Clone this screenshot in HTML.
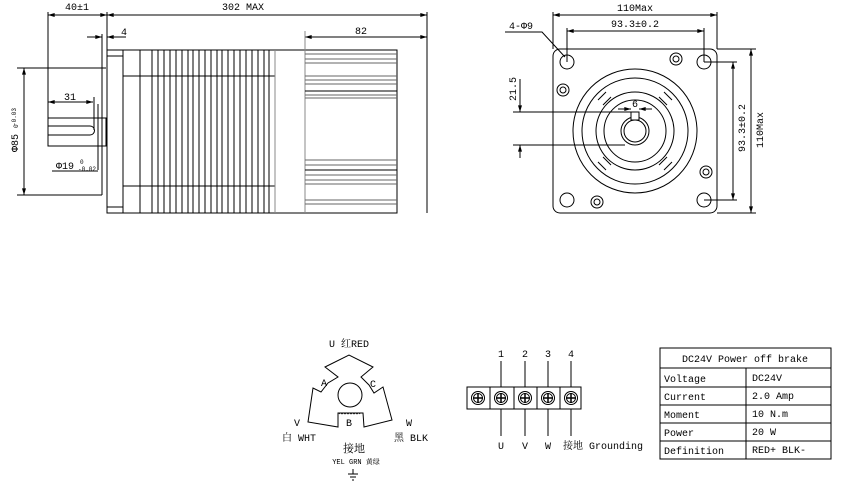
<!DOCTYPE html>
<html><head><meta charset="utf-8"><style>
html,body{margin:0;padding:0;background:#fff;}
svg{display:block;font-family:"Liberation Mono","Noto Serif CJK SC",monospace;}
text{font-size:10px;fill:#000;}
</style></head><body>
<svg width="842" height="484" viewBox="0 0 842 484" xmlns="http://www.w3.org/2000/svg">
<defs>
<marker id="a" viewBox="0 0 10 6" refX="10" refY="3" markerWidth="8" markerHeight="4" orient="auto-start-reverse"><path d="M0,0L10,3L0,6z" fill="#000"/></marker>
</defs>
<g stroke="#000" stroke-width="1" fill="none">
<!-- side view dims -->
<line x1="48" y1="12" x2="48" y2="146"/>
<line x1="107" y1="12" x2="107" y2="50"/>
<line x1="427" y1="12" x2="427" y2="213"/>
<line x1="48" y1="15" x2="107" y2="15" marker-start="url(#a)" marker-end="url(#a)"/>
<line x1="107" y1="15" x2="427" y2="15" marker-start="url(#a)" marker-end="url(#a)"/>
<line x1="305" y1="37" x2="427" y2="37" marker-start="url(#a)" marker-end="url(#a)"/>
<line x1="87" y1="37" x2="102" y2="37" marker-end="url(#a)"/>
<line x1="126" y1="37" x2="107" y2="37" marker-end="url(#a)"/>
<line x1="102" y1="34" x2="102" y2="195"/>
<line x1="17" y1="68" x2="106" y2="68"/>
<line x1="17" y1="195" x2="102" y2="195"/>
<line x1="24" y1="68" x2="24" y2="195" marker-start="url(#a)" marker-end="url(#a)"/>
<!-- shaft -->
<rect x="48" y="118" width="58" height="28"/>
<path d="M48,126H90A4.5,4.5 0 0 1 90,135H48"/>
<line x1="48" y1="102" x2="93" y2="102" marker-start="url(#a)" marker-end="url(#a)"/>
<line x1="94" y1="97" x2="94" y2="130"/>
<line x1="98" y1="104" x2="98" y2="170"/>
<line x1="52" y1="171" x2="98" y2="171"/>
<!-- body -->
<rect x="107" y="50" width="290" height="163"/>
<line x1="123" y1="50" x2="123" y2="213"/>
<line x1="107" y1="56" x2="123" y2="56"/>
<line x1="107" y1="207" x2="123" y2="207"/>
<path d="M123,50V76H275M123,213V186H275"/>
<g>
<line x1="140" y1="50" x2="140" y2="213"/><line x1="152" y1="50" x2="152" y2="213"/><line x1="158" y1="50" x2="158" y2="213"/><line x1="164" y1="50" x2="164" y2="213"/><line x1="170" y1="50" x2="170" y2="213"/><line x1="176" y1="50" x2="176" y2="213"/><line x1="182" y1="50" x2="182" y2="213"/><line x1="188" y1="50" x2="188" y2="213"/><line x1="193" y1="50" x2="193" y2="213"/><line x1="199" y1="50" x2="199" y2="213"/><line x1="205" y1="50" x2="205" y2="213"/><line x1="211" y1="50" x2="211" y2="213"/><line x1="217" y1="50" x2="217" y2="213"/><line x1="222" y1="50" x2="222" y2="213"/><line x1="228" y1="50" x2="228" y2="213"/><line x1="234" y1="50" x2="234" y2="213"/><line x1="240" y1="50" x2="240" y2="213"/><line x1="246" y1="50" x2="246" y2="213"/><line x1="252" y1="50" x2="252" y2="213"/><line x1="258" y1="50" x2="258" y2="213"/><line x1="264" y1="50" x2="264" y2="213"/><line x1="269" y1="50" x2="269" y2="213"/>
</g>
<line x1="275" y1="50" x2="275" y2="213" stroke="#888"/>
<line x1="305" y1="31" x2="305" y2="213" stroke="#888"/>
<g stroke="#666">
<line x1="305" y1="54" x2="397" y2="54"/><line x1="305" y1="59" x2="397" y2="59"/><line x1="305" y1="63" x2="397" y2="63"/><line x1="305" y1="76" x2="397" y2="76"/><line x1="305" y1="80" x2="397" y2="80"/><line x1="305" y1="84" x2="397" y2="84"/><line x1="305" y1="91" x2="397" y2="91" stroke="#000"/><line x1="305" y1="95" x2="397" y2="95"/><line x1="305" y1="98" x2="397" y2="98"/>
<line x1="305" y1="160" x2="397" y2="160"/><line x1="305" y1="165" x2="397" y2="165"/><line x1="305" y1="170" x2="397" y2="170" stroke="#000"/><line x1="305" y1="175" x2="397" y2="175"/><line x1="305" y1="180" x2="397" y2="180"/><line x1="305" y1="184" x2="397" y2="184"/><line x1="305" y1="200" x2="397" y2="200"/><line x1="305" y1="204" x2="397" y2="204"/>
</g>
<!-- front view -->
<rect x="553" y="49" width="164" height="164" rx="7"/>
<line x1="553" y1="12" x2="553" y2="49"/><line x1="717" y1="12" x2="717" y2="49"/>
<line x1="553" y1="15" x2="717" y2="15" marker-start="url(#a)" marker-end="url(#a)"/>
<line x1="567" y1="28" x2="567" y2="62"/><line x1="704" y1="28" x2="704" y2="62"/>
<line x1="567" y1="31" x2="704" y2="31" marker-start="url(#a)" marker-end="url(#a)"/>
<polyline points="505,32 542,32 565,57"/>
<circle cx="567" cy="62" r="7"/><circle cx="704" cy="62" r="7"/><circle cx="567" cy="200" r="7"/><circle cx="704" cy="200" r="7"/>
<circle cx="676" cy="59" r="6"/><circle cx="676" cy="59" r="3"/>
<circle cx="563" cy="90" r="6"/><circle cx="563" cy="90" r="3"/>
<circle cx="706" cy="172" r="6"/><circle cx="706" cy="172" r="3"/>
<circle cx="597" cy="202" r="6"/><circle cx="597" cy="202" r="3"/>
<circle cx="635" cy="131" r="62"/>
<circle cx="635" cy="131" r="53"/>
<circle cx="635" cy="131" r="39"/>
<circle cx="635" cy="131" r="31"/>
<circle cx="635" cy="131" r="14"/>
<circle cx="635" cy="131" r="11"/>
<line x1="598" y1="100" x2="606" y2="92"/><line x1="603" y1="105" x2="611" y2="97"/>
<line x1="664" y1="92" x2="672" y2="100"/><line x1="659" y1="97" x2="667" y2="105"/>
<line x1="598" y1="162" x2="606" y2="170"/><line x1="603" y1="157" x2="611" y2="165"/>
<line x1="664" y1="170" x2="672" y2="162"/><line x1="659" y1="165" x2="667" y2="157"/>
<rect x="631" y="112" width="8" height="8" fill="#fff"/>
<line x1="618" y1="109" x2="631" y2="109" marker-end="url(#a)"/><line x1="652" y1="109" x2="639" y2="109" marker-end="url(#a)"/>
<line x1="513" y1="112" x2="635" y2="112"/>
<line x1="513" y1="145" x2="625" y2="145"/>
<line x1="520" y1="79" x2="520" y2="112" marker-end="url(#a)"/>
<line x1="520" y1="158" x2="520" y2="145" marker-end="url(#a)"/>
<line x1="704" y1="62" x2="737" y2="62"/><line x1="704" y1="200" x2="737" y2="200"/>
<line x1="733" y1="62" x2="733" y2="200" marker-start="url(#a)" marker-end="url(#a)"/>
<line x1="717" y1="49" x2="756" y2="49"/><line x1="717" y1="213" x2="756" y2="213"/>
<line x1="751" y1="49" x2="751" y2="213" marker-start="url(#a)" marker-end="url(#a)"/>
<!-- wiring -->
<polygon points="325,367 349,355 373,367 361,377 369,385 374,393 383,387 392,420 364,427 363,413 338,413 338,427 308,422 313,388 321,392 328,383 338,377"/>
<circle cx="350" cy="395" r="12"/>
<path d="M339,414q1.5,-2 3,0q1.5,-2 3,0q1.5,-2 3,0q1.5,-2 3,0q1.5,-2 3,0q1.5,-2 3,0q1.5,-2 3,0" stroke-width="0.7"/>
<line x1="353" y1="469" x2="353" y2="474"/><line x1="348" y1="474" x2="358" y2="474"/><line x1="350" y1="477" x2="356" y2="477"/><line x1="352" y1="480" x2="354" y2="480"/>
<!-- terminal -->
<rect x="467" y="387" width="114" height="22"/>
<line x1="490" y1="387" x2="490" y2="409"/><line x1="514" y1="387" x2="514" y2="409"/><line x1="537" y1="387" x2="537" y2="409"/><line x1="560" y1="387" x2="560" y2="409"/>
<g>
<circle cx="478" cy="398" r="6.5"/><circle cx="478" cy="398" r="4.5"/><line x1="473" y1="398" x2="483" y2="398" stroke-width="1.5"/><line x1="478" y1="393" x2="478" y2="403" stroke-width="1.5"/>
<circle cx="501" cy="398" r="6.5"/><circle cx="501" cy="398" r="4.5"/><line x1="496" y1="398" x2="506" y2="398" stroke-width="1.5"/><line x1="501" y1="393" x2="501" y2="403" stroke-width="1.5"/>
<circle cx="525" cy="398" r="6.5"/><circle cx="525" cy="398" r="4.5"/><line x1="520" y1="398" x2="530" y2="398" stroke-width="1.5"/><line x1="525" y1="393" x2="525" y2="403" stroke-width="1.5"/>
<circle cx="548" cy="398" r="6.5"/><circle cx="548" cy="398" r="4.5"/><line x1="543" y1="398" x2="553" y2="398" stroke-width="1.5"/><line x1="548" y1="393" x2="548" y2="403" stroke-width="1.5"/>
<circle cx="571" cy="398" r="6.5"/><circle cx="571" cy="398" r="4.5"/><line x1="566" y1="398" x2="576" y2="398" stroke-width="1.5"/><line x1="571" y1="393" x2="571" y2="403" stroke-width="1.5"/>
</g>
<line x1="501" y1="361" x2="501" y2="387"/><line x1="525" y1="361" x2="525" y2="387"/><line x1="548" y1="361" x2="548" y2="387"/><line x1="571" y1="361" x2="571" y2="387"/>
<line x1="501" y1="409" x2="501" y2="436"/><line x1="525" y1="409" x2="525" y2="436"/><line x1="548" y1="409" x2="548" y2="436"/><line x1="571" y1="409" x2="571" y2="436"/>
<!-- table -->
<rect x="660" y="348" width="171" height="111"/>
<line x1="660" y1="368" x2="831" y2="368"/><line x1="660" y1="387" x2="831" y2="387"/><line x1="660" y1="405" x2="831" y2="405"/><line x1="660" y1="423" x2="831" y2="423"/><line x1="660" y1="441" x2="831" y2="441"/>
<line x1="746" y1="368" x2="746" y2="459"/>
</g>
<g>
<text x="77" y="10" text-anchor="middle" font-size="11">40±1</text>
<text x="243" y="10" text-anchor="middle">302 MAX</text>
<text x="121" y="35">4</text>
<text x="361" y="34" text-anchor="middle">82</text>
<text x="70" y="100" text-anchor="middle">31</text>
<text x="56" y="169">Φ19</text><text x="80" y="164" style="font-size:6px">0</text><text x="78" y="171" style="font-size:6px">-0.02</text>
<text transform="translate(18,152) rotate(-90)">Φ85 <tspan style="font-size:6px">0</tspan></text>
<text transform="translate(16,126) rotate(-90)" style="font-size:6px">-0.03</text>
<text x="635" y="11" text-anchor="middle">110Max</text>
<text x="635" y="27" text-anchor="middle">93.3±0.2</text>
<text x="509" y="29">4-Φ9</text>
<text x="635" y="107" text-anchor="middle">6</text>
<text transform="translate(516,101) rotate(-90)">21.5</text>
<text transform="translate(745,152) rotate(-90)">93.3±0.2</text>
<text transform="translate(763,148) rotate(-90)">110Max</text>
<text x="349" y="347" text-anchor="middle">U 红RED</text>
<text x="324" y="386" text-anchor="middle">A</text>
<text x="373" y="387" text-anchor="middle">C</text>
<text x="349" y="426" text-anchor="middle">B</text>
<text x="297" y="426" text-anchor="middle">V</text>
<text x="409" y="426" text-anchor="middle">W</text>
<text x="299" y="441" text-anchor="middle">白 WHT</text>
<text x="411" y="441" text-anchor="middle">黑 BLK</text>
<text x="354" y="452" text-anchor="middle" style="font-size:11px">接地</text>
<text x="356" y="464" text-anchor="middle" style="font-size:7px">YEL GRN 黄绿</text>
<text x="501" y="357" text-anchor="middle">1</text><text x="525" y="357" text-anchor="middle">2</text><text x="548" y="357" text-anchor="middle">3</text><text x="571" y="357" text-anchor="middle">4</text>
<text x="501" y="449" text-anchor="middle">U</text><text x="525" y="449" text-anchor="middle">V</text><text x="548" y="449" text-anchor="middle">W</text>
<text x="563" y="449">接地 Grounding</text>
<text x="745" y="362" text-anchor="middle">DC24V Power off brake</text>
<text x="664" y="382">Voltage</text><text x="752" y="381">DC24V</text>
<text x="664" y="400">Current</text><text x="752" y="399">2.0 Amp</text>
<text x="664" y="418">Moment</text><text x="752" y="417">10 N.m</text>
<text x="664" y="436">Power</text><text x="752" y="435">20 W</text>
<text x="664" y="454">Definition</text><text x="752" y="453">RED+ BLK-</text>
</g>
</svg>
</body></html>
